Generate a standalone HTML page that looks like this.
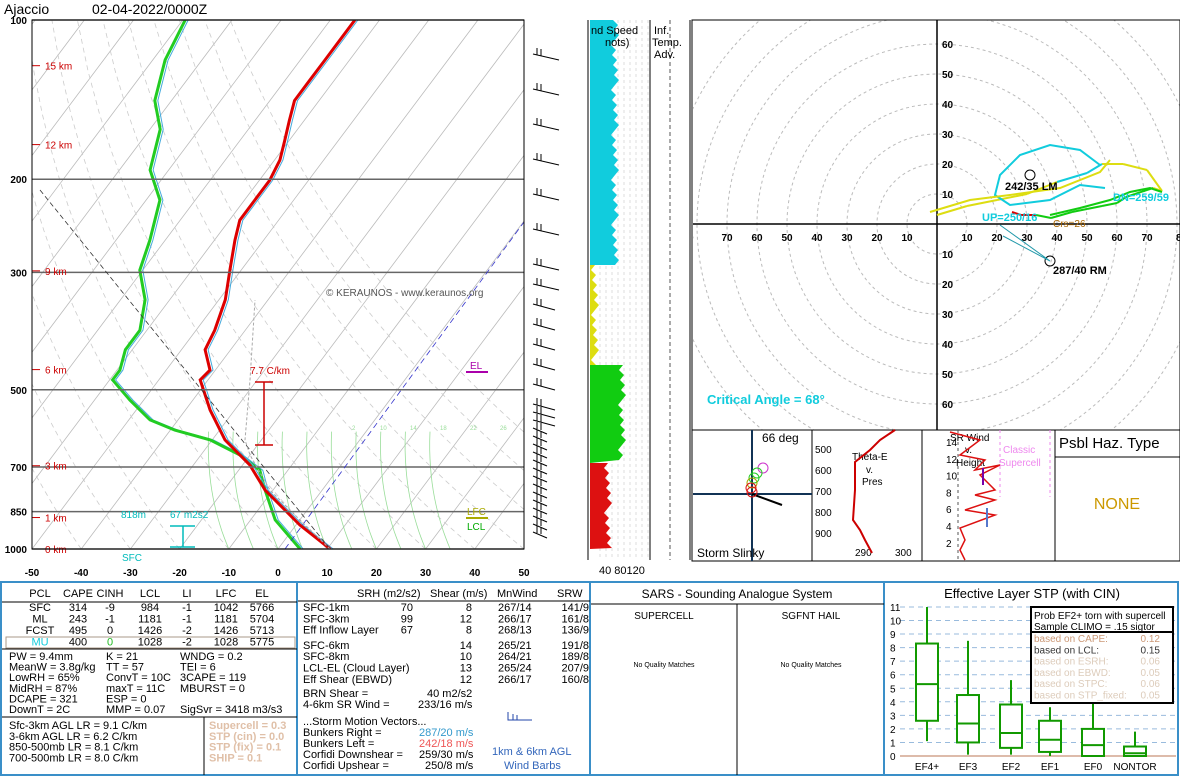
<!DOCTYPE html>
<html><head><meta charset="utf-8"><style>
body{margin:0;background:#fff;}
svg{display:block;font-family:"Liberation Sans",sans-serif;}
</style></head><body>
<svg id="c" width="1180" height="777" viewBox="0 0 1180 777" xmlns="http://www.w3.org/2000/svg">
<rect x="0" y="0" width="1180" height="777" fill="#fff"/>
<g id="skewt"></g>
<text x="4" y="14" font-size="14">Ajaccio</text>
<text x="92" y="14" font-size="14">02-04-2022/0000Z</text>
<g id="wspd"></g>
<g id="hodo"></g>
<g id="mini"></g>
<g id="bottom"></g>
<g id="stp"></g>
</svg>
<script>
// ---- data ----
const tempP=[1000,901,774,694,622,546,479,459,420,386,338,297,261,239,219,201,184,169,155,142,130,119,109,100];
const tempT=[10.6,0.8,-11.6,-18.5,-27.4,-35.0,-41.6,-41.1,-45.2,-46.2,-48.7,-52.3,-55.8,-57.9,-57.9,-57.9,-58.9,-60.9,-63.0,-65.0,-65.0,-65.0,-65.0,-65.0];
const dewP=[1000,881,774,710,664,622,596,570,523,479,459,420,386,338,297,261,219,192,161,142,119,109,100];
const dewT=[4.5,-5.0,-11.6,-15.7,-22.1,-30.4,-39.1,-45.7,-52.8,-59.4,-59.4,-61.4,-61.4,-65.0,-70.6,-73.1,-77.2,-83.8,-87.9,-93.4,-97.5,-98.5,-99.5];
const pressureTicks=[100,200,300,500,700,850,1000];
const tempTicks=[-50,-40,-30,-20,-10,0,10,20,30,40,50];
const heightLabels=["15 km","12 km","9 km","6 km","3 km","1 km","0 km"];
const heightP=[122,172,298,458,696,872,1000];
const hodoU=[25,28,33,38,45,50,55,60,63,66,72,75,70,62,55,50,40,30,20,10,0];
const hodoV=[4,3,3,2,4,5,6,7,9,10,12,11,18,20,20,17,14,10,8,6,3];
const stpCats=["EF4+","EF3","EF2","EF1","EF0","NONTOR"];
const stpLo=[1.1,0.1,0.1,0,0,0];
const stpQ1=[2.6,1.0,0.6,0.3,0,0];
const stpMed=[5.3,2.4,1.7,1.2,0.8,0.2];
const stpQ3=[8.3,4.5,3.8,2.6,2.0,0.7];
const stpHi=[11,8.5,5.6,3.6,4.0,1.8];

const NS="http://www.w3.org/2000/svg";
function mk(parent,tag,attrs,txt){const e=document.createElementNS(NS,tag);for(const k in attrs)e.setAttribute(k,attrs[k]);if(txt!==undefined)e.textContent=txt;parent.appendChild(e);return e;}

// ---- skew-T ----
const sk=document.getElementById('skewt');
const Y0=20,Y1=549,X0=32,X1=524;
function yP(p){return Y0+(Y1-Y0)*Math.log(p/100)/Math.log(10);}
function xT(t,y){return 278+4.92*t+0.75*(Y1-y);}
const clip=mk(sk,'clipPath',{id:'skclip'});mk(clip,'rect',{x:X0,y:Y0,width:X1-X0,height:Y1-Y0});
const grid=mk(sk,'g',{'clip-path':'url(#skclip)'});


for(let t=-160;t<=60;t+=10){const l=mk(grid,'line',{x1:xT(t,Y1),y1:Y1,x2:xT(t,Y0),y2:Y0,stroke:'#bbb','stroke-width':0.8});

}
for(let t=-40;t<=80;t+=10){let d='';for(let p=1000;p>=100;p-=25){const th=(t+273.15)*Math.pow(p/1000,0.286)-273.15;const y=yP(p);d+=(d?'L':'M')+xT(th,y).toFixed(1)+' '+y.toFixed(1);}
const a=mk(grid,'path',{d:d,fill:'none',stroke:'#ccc','stroke-width':0.8,'stroke-dasharray':'5,4'});

}
for(let t=-10;t<=35;t+=5){let d='';for(let p=1000;p>=600;p-=25){const y=yP(p);const tt=t-(1000-p)*0.055;d+=(d?'L':'M')+xT(tt,y).toFixed(1)+' '+y.toFixed(1);}
const m=mk(grid,'path',{d:d,fill:'none',stroke:'#9d9','stroke-width':0.8});

}
pressureTicks.forEach(p=>{const y=yP(p);const l=mk(sk,'line',{x1:X0,x2:X1,y1:y,y2:y,stroke:'#666','stroke-width':1.5});


const t=mk(sk,'text',{x:27,y:y+4,'font-size':10,'font-weight':'bold','text-anchor':'end'},p);

});
tempTicks.forEach(t=>{const tx=mk(sk,'text',{x:278+4.92*t,y:576,'font-size':10,'font-weight':'bold','text-anchor':'middle'},t);

});
heightLabels.forEach((h,i)=>{const y=yP(heightP[i]);mk(sk,'line',{x1:32,x2:40,y1:y,y2:y,stroke:'#c00'});
const t=mk(sk,'text',{x:45,y:y+4,'font-size':10,fill:'#c00'},h);

});
mk(sk,'line',{x1:40,y1:190,x2:330,y2:549,stroke:'#333','stroke-dasharray':'5,3','stroke-width':0.8});
mk(sk,'line',{x1:285,y1:549,x2:524,y2:222,stroke:'#33c','stroke-dasharray':'6,4','stroke-width':0.8});
mk(sk,'path',{d:'M330 549 L300 520 L270 490 L250 455 L245 440 L250 380 L255 300',fill:'none',stroke:'#aaa','stroke-width':1,'stroke-dasharray':'3,2'});
function prof(P,T,col,name){let d='';P.forEach((p,i)=>{const y=yP(p);d+=(i?'L':'M')+xT(T[i],y).toFixed(1)+' '+y.toFixed(1);});
mk(grid,'path',{d:d,fill:'none',stroke:'#4ad','stroke-width':1,transform:'translate(3,0)'});
const e=mk(grid,'path',{d:d,fill:'none',stroke:col,'stroke-width':3});

}
prof(dewP,dewT,'#2c2','dewpoint-line');
prof(tempP,tempT,'#d00','temperature-line');
mk(sk,'rect',{x:X0,y:Y0,width:X1-X0,height:Y1-Y0,fill:'none',stroke:'#000'});
mk(sk,'text',{x:326,y:296,'font-size':10,fill:'#555'},'© KERAUNOS - www.keraunos.org');
mk(sk,'text',{x:250,y:374,'font-size':10,fill:'#c00'},'7.7 C/km');
mk(sk,'path',{d:'M255 382 H273 M264 382 V445 M255 445 H273',stroke:'#c00',fill:'none','stroke-width':1.5});
mk(sk,'text',{x:470,y:369,'font-size':10,fill:'#a0a'},'EL');mk(sk,'line',{x1:466,x2:488,y1:372,y2:372,stroke:'#a0a','stroke-width':2});
mk(sk,'text',{x:467,y:515,'font-size':10,fill:'#aa0'},'LFC');mk(sk,'line',{x1:466,x2:488,y1:518,y2:518,stroke:'#aa0','stroke-width':2});
mk(sk,'text',{x:467,y:530,'font-size':10,fill:'#0a0'},'LCL');
mk(sk,'text',{x:121,y:518,'font-size':10,fill:'#0bb'},'818m');
mk(sk,'text',{x:170,y:518,'font-size':10,fill:'#0bb'},'67 m2s2');
mk(sk,'path',{d:'M170 526 H195 M183 526 V547 M170 547 H195',stroke:'#0bb',fill:'none','stroke-width':1.5});
mk(sk,'text',{x:122,y:561,'font-size':10,fill:'#0bb'},'SFC');
[352,380,410,440,470,500].forEach((x,i)=>mk(sk,'text',{x:x,y:430,'font-size':6,fill:'#9d9'},[2,10,14,18,22,26][i]));
for(let y=60;y<=545;y+=(y>400?8:(y>250?20:35))){const g=mk(sk,'g',{stroke:'#000','stroke-width':1,fill:'none'});


const len=y>430?14:(y>300?22:26);
mk(g,'line',{x1:533,y1:y-6,x2:533+len,y2:y});
mk(g,'line',{x1:537,y1:y-5,x2:537,y2:y-12});mk(g,'line',{x1:541,y1:y-4,x2:541,y2:y-11});}

// ---- wind speed column ----
const ws=document.getElementById('wspd');
mk(ws,'rect',{x:588,y:20,width:62,height:540,fill:'#fff'});
for(let x=600;x<650;x+=6)mk(ws,'line',{x1:x,x2:x,y1:20,y2:560,stroke:'#ddd','stroke-dasharray':'3,3'});
const cols=[[20,265,'#1cd',615],[265,365,'#dd1',595],[365,463,'#1c1',622],[463,549,'#d11',608]];
cols.forEach(c=>{let d='M590 '+c[0];for(let y=c[0];y<=c[1];y+=5){d+='L'+(c[3]+((y*37)%9)-4)+' '+y;}d+='L590 '+c[1]+'Z';
const p=mk(ws,'path',{d:d,fill:c[2]});

});
mk(ws,'line',{x1:650,x2:650,y1:20,y2:560,stroke:'#000'});
mk(ws,'line',{x1:588,x2:588,y1:20,y2:560,stroke:'#000'});
mk(ws,'line',{x1:670,x2:670,y1:20,y2:560,stroke:'#555','stroke-dasharray':'4,3'});
mk(ws,'line',{x1:690,x2:690,y1:20,y2:560,stroke:'#000'});
mk(ws,'text',{x:591,y:34,'font-size':11},'nd Speed');mk(ws,'text',{x:605,y:46,'font-size':11},'nots)');
mk(ws,'text',{x:654,y:34,'font-size':11},'Inf.');mk(ws,'text',{x:652,y:46,'font-size':11},'Temp.');mk(ws,'text',{x:654,y:58,'font-size':11},'Adv.');
mk(ws,'text',{x:599,y:574,'font-size':11},'40 80120');

// ---- hodograph ----
const hd=document.getElementById('hodo');
const HX=937,HY=224,HS=3;
const hc=mk(hd,'clipPath',{id:'hclip'});mk(hc,'rect',{x:693,y:20,width:487,height:410});
const hg=mk(hd,'g',{'clip-path':'url(#hclip)'});
for(let r=10;r<=90;r+=10)mk(hg,'circle',{cx:HX,cy:HY,r:r*HS,fill:'none',stroke:'#bbb','stroke-dasharray':'3,3'});
mk(hg,'line',{x1:693,x2:1180,y1:HY,y2:HY,stroke:'#000','stroke-width':1.5});
mk(hg,'line',{x1:HX,x2:HX,y1:20,y2:430,stroke:'#000','stroke-width':1.5});
[10,20,30,40,50,60,70].forEach(v=>{mk(hg,'text',{x:HX-v*HS,y:HY+17,'font-size':10,'font-weight':'bold','text-anchor':'middle'},v);mk(hg,'text',{x:HX+v*HS,y:HY+17,'font-size':10,'font-weight':'bold','text-anchor':'middle'},v);
if(v<=60){mk(hg,'text',{x:HX+5,y:HY-v*HS+4,'font-size':10,'font-weight':'bold'},v);mk(hg,'text',{x:HX+5,y:HY+v*HS+4,'font-size':10,'font-weight':'bold'},v);}});
mk(hg,'text',{x:HX-83*HS,y:HY+17,'font-size':10,'font-weight':'bold'},'0');mk(hg,'text',{x:1176,y:HY+17,'font-size':10,'font-weight':'bold'},'8');
const hcol=['#d00','#d00','#d00','#1c1','#1c1','#1c1','#1c1','#1c1','#1c1','#1c1','#1c1','#dd1','#dd1','#dd1','#dd1','#1cd','#1cd','#dd1','#dd1','#dd1','#dd1'];
for(let i=1;i<hodoU.length;i++){const l=mk(hg,'line',{x1:HX+hodoU[i-1]*HS,y1:HY-hodoV[i-1]*HS,x2:HX+hodoU[i]*HS,y2:HY-hodoV[i]*HS,stroke:hcol[i],'stroke-width':2});

}
mk(hg,'path',{d:'M1100 165 L1080 150 L1050 145 L1020 155 L1000 175 L995 195 L1010 205 L1050 200 L1080 185 L1105 188',fill:'none',stroke:'#1cd','stroke-width':2});
mk(hg,'path',{d:'M930 212 L970 200 L1010 195 L1060 188 L1100 172 L1110 160',fill:'none',stroke:'#dd1','stroke-width':2});
mk(hg,'path',{d:'M1050 215 L1080 208 L1110 200 L1130 192 L1150 188 L1162 192',fill:'none',stroke:'#1c1','stroke-width':2});
mk(hg,'circle',{cx:1030,cy:175,r:5,fill:'none',stroke:'#000'});
mk(hg,'text',{x:1005,y:190,'font-size':11,'font-weight':'bold'},'242/35 LM');
mk(hg,'circle',{cx:1050,cy:261,r:5,fill:'none',stroke:'#000'});
mk(hg,'path',{d:'M1003 236 L1050 261 L1000 225',fill:'none',stroke:'#29a'});
mk(hg,'text',{x:1053,y:274,'font-size':11,'font-weight':'bold'},'287/40 RM');
mk(hg,'text',{x:982,y:221,'font-size':11,'font-weight':'bold',fill:'#1cd'},'UP=250/16');
mk(hg,'text',{x:1113,y:201,'font-size':11,'font-weight':'bold',fill:'#1cd'},'DN=259/59');
mk(hg,'text',{x:1053,y:227,'font-size':10,fill:'#a60'},'Crs=26');
mk(hg,'text',{x:707,y:404,'font-size':13,'font-weight':'bold',fill:'#1cd'},'Critical Angle = 68°');
mk(hd,'rect',{x:692,y:20,width:488,height:410,fill:'none',stroke:'#000'});

// ---- mini panels ----
const mi=document.getElementById('mini');
mk(mi,'rect',{x:692,y:430,width:488,height:131,fill:'#fff',stroke:'#000'});
[812,922,1055].forEach(x=>mk(mi,'line',{x1:x,x2:x,y1:430,y2:561,stroke:'#000'}));
mk(mi,'line',{x1:693,x2:812,y1:494,y2:494,stroke:'#135','stroke-width':2});
mk(mi,'line',{x1:752,x2:752,y1:430,y2:561,stroke:'#135','stroke-width':2});
mk(mi,'line',{x1:752,x2:782,y1:494,y2:505,stroke:'#000','stroke-width':2});
[[763,468,'#c3c'],[757,473,'#2c2'],[754,478,'#2c2'],[752,483,'#a8a800'],[751,488,'#d11'],[752,492,'#d11']].forEach(c=>mk(mi,'circle',{cx:c[0],cy:c[1],r:5,fill:'none',stroke:c[2]}));
mk(mi,'text',{x:762,y:442,'font-size':12},'66 deg');
mk(mi,'text',{x:697,y:557,'font-size':12},'Storm Slinky');
[500,600,700,800,900].forEach((p,i)=>mk(mi,'text',{x:815,y:453+i*21,'font-size':10},p));
mk(mi,'text',{x:852,y:460,'font-size':10},'Theta-E');mk(mi,'text',{x:866,y:473,'font-size':10},'v.');mk(mi,'text',{x:862,y:485,'font-size':10},'Pres');
mk(mi,'text',{x:855,y:556,'font-size':10},'290');mk(mi,'text',{x:895,y:556,'font-size':10},'300');
mk(mi,'path',{d:'M895 430 L880 440 L870 450 L855 462 L855 490 L853 520 L860 530 L865 540 L872 553',fill:'none',stroke:'#c00','stroke-width':2});
[14,12,10,8,6,4,2].forEach((h,i)=>mk(mi,'text',{x:946,y:446+i*16.8,'font-size':10},h));
mk(mi,'line',{x1:958,x2:958,y1:430,y2:561,stroke:'#555','stroke-dasharray':'3,3'});
mk(mi,'line',{x1:1000,x2:1000,y1:430,y2:497,stroke:'#e8e','stroke-dasharray':'3,3'});
mk(mi,'line',{x1:1050,x2:1050,y1:430,y2:497,stroke:'#e8e','stroke-dasharray':'3,3'});
mk(mi,'text',{x:1003,y:453,'font-size':10,fill:'#e8e'},'Classic');mk(mi,'text',{x:999,y:466,'font-size':10,fill:'#e8e'},'Supercell');
mk(mi,'text',{x:950,y:441,'font-size':10},'SR Wind');mk(mi,'text',{x:965,y:453,'font-size':10},'v.');mk(mi,'text',{x:956,y:466,'font-size':10},'Height');
mk(mi,'path',{d:'M950 432 L980 440 L960 455 L985 460 L975 470 L1000 465 L980 475 L995 490 L975 495 L995 500 L965 510 L995 515 L960 528 L965 540 L960 550 L965 560',fill:'none',stroke:'#d11','stroke-width':1.5});
mk(mi,'line',{x1:983,x2:983,y1:468,y2:485,stroke:'#70a','stroke-width':2});
mk(mi,'line',{x1:987,x2:987,y1:508,y2:527,stroke:'#57c','stroke-width':2});
mk(mi,'text',{x:1059,y:448,'font-size':15},'Psbl Haz. Type');
mk(mi,'line',{x1:1055,x2:1180,y1:457,y2:457,stroke:'#000'});
mk(mi,'text',{x:1117,y:509,'font-size':16,fill:'#c90','text-anchor':'middle'},'NONE');

// ---- bottom tables ----
const bt=document.getElementById('bottom');
mk(bt,'rect',{x:1,y:582,width:1177,height:193,fill:'#fff',stroke:'#3a8fc8','stroke-width':2});
[297,590,884].forEach(x=>mk(bt,'line',{x1:x,x2:x,y1:583,y2:775,stroke:'#3a8fc8','stroke-width':2}));
function T(x,y,s,opt){const o=Object.assign({'font-size':11},opt||{});o.x=x;o.y=y;return mk(bt,'text',o,s);}
const hdr=['PCL','CAPE','CINH','LCL','LI','LFC','EL'],hx=[40,78,110,150,187,226,262];
hdr.forEach((h,i)=>T(hx[i],597,h,{'text-anchor':'middle'}));
const rows=[['SFC','314','-9','984','-1','1042','5766'],['ML','243','-1','1181','-1','1181','5704'],['FCST','495','0','1426','-2','1426','5713'],['MU','400','0','1028','-2','1028','5775']];
rows.forEach((r,j)=>r.forEach((v,i)=>T(hx[i],611+j*11.5,v,{'text-anchor':'middle',fill:(j==3&&i==0)?'#1cd':(j==3&&i==2)?'#2b2':'#000'})));
mk(bt,'rect',{x:6,y:637,width:289,height:11,fill:'none',stroke:'#a98'});
mk(bt,'line',{x1:2,x2:297,y1:602,y2:602,stroke:'#000'});
mk(bt,'line',{x1:2,x2:297,y1:649,y2:649,stroke:'#000'});
mk(bt,'line',{x1:2,x2:297,y1:717,y2:717,stroke:'#000'});
mk(bt,'line',{x1:204,x2:204,y1:717,y2:775,stroke:'#000'});
const ix=[['PW = 9.4mm','K = 21','WNDG = 0.2'],['MeanW = 3.8g/kg','TT = 57','TEI = 6'],['LowRH = 65%','ConvT = 10C','3CAPE = 119'],['MidRH = 87%','maxT = 11C','MBURST = 0'],['DCAPE = 321','ESP = 0',''],['DownT = 2C','MMP = 0.07','SigSvr = 3418 m3/s3']];
ix.forEach((r,j)=>{T(9,660+j*10.6,r[0]);T(106,660+j*10.6,r[1]);T(180,660+j*10.6,r[2]);});
['Sfc-3km AGL LR = 9.1 C/km','3-6km AGL LR = 6.2 C/km','850-500mb LR = 8.1 C/km','700-500mb LR = 8.0 C/km'].forEach((s,j)=>T(9,729+j*10.8,s));
['Supercell = 0.3','STP (cin) = 0.0','STP (fix) = 0.1','SHIP = 0.1'].forEach((s,j)=>T(209,729+j*10.8,s,{fill:'#e0c0a8','font-weight':'bold'}));
// middle
T(357,597,'SRH (m2/s2)');T(430,597,'Shear (m/s)');T(497,597,'MnWind');T(557,597,'SRW');
mk(bt,'line',{x1:298,x2:590,y1:601,y2:601,stroke:'#000'});
const sr=[['SFC-1km','70','8','267/14','141/9'],['SFC-3km','99','12','266/17','161/8'],['Eff Inflow Layer','67','8','268/13','136/9'],null,['SFC-6km','','14','265/21','191/8'],['SFC-8km','','10','264/21','189/8'],['LCL-EL (Cloud Layer)','','13','265/24','207/9'],['Eff Shear (EBWD)','','12','266/17','160/8']];
let yy=611;sr.forEach(r=>{if(!r){yy+=4;return;}T(303,yy,r[0]);T(413,yy,r[1],{'text-anchor':'end'});T(472,yy,r[2],{'text-anchor':'end'});T(498,yy,r[3]);T(589,yy,r[4],{'text-anchor':'end'});yy+=11.3;});
T(303,697,'BRN Shear =');T(427,697,'40 m2/s2');T(303,708,'4-6km SR Wind =');T(418,708,'233/16 m/s');
T(303,725,'...Storm Motion Vectors...');
T(303,736,'Bunkers Right =');T(419,736,'287/20 m/s',{fill:'#39c'});
T(303,747,'Bunkers Left =');T(419,747,'242/18 m/s',{fill:'#e55'});
T(303,758,'Corfidi Downshear =');T(419,758,'259/30 m/s');
T(303,769,'Corfidi Upshear =');T(425,769,'250/8 m/s');
T(492,755,'1km & 6km AGL',{fill:'#36b'});T(504,769,'Wind Barbs',{fill:'#36b'});
mk(bt,'path',{d:'M508 712 V720 H532 M513 714 V720 M517 715 V720',stroke:'#24a',fill:'none'});
// SARS
T(737,598,'SARS - Sounding Analogue System',{'text-anchor':'middle','font-size':12});
mk(bt,'line',{x1:591,x2:884,y1:604,y2:604,stroke:'#000'});
mk(bt,'line',{x1:737,x2:737,y1:604,y2:775,stroke:'#000'});
T(664,619,'SUPERCELL',{'text-anchor':'middle','font-size':10});T(811,619,'SGFNT HAIL',{'text-anchor':'middle','font-size':10});
T(664,667,'No Quality Matches',{'text-anchor':'middle','font-size':7});T(811,667,'No Quality Matches',{'text-anchor':'middle','font-size':7});

// ---- STP boxplot ----
const st=document.getElementById('stp');
const SY0=756,SPU=13.55,SX=[927,968,1011,1050,1093,1135];
function sy(v){return SY0-v*SPU;}
mk(st,'text',{x:1032,y:598,'font-size':13,'text-anchor':'middle'},'Effective Layer STP (with CIN)');
for(let v=0;v<=11;v++){mk(st,'line',{x1:900,x2:1176,y1:sy(v),y2:sy(v),stroke:v?'#9bd':'#dba','stroke-dasharray':v?'5,4':'','stroke-width':v?1:2});
mk(st,'text',{x:890,y:sy(v)+4,'font-size':10},v);}
stpCats.forEach((c,i)=>{const g=mk(st,'g',{stroke:'#190','stroke-width':2,fill:'none'});


mk(g,'line',{x1:SX[i],x2:SX[i],y1:sy(stpLo[i]),y2:sy(stpHi[i])});
mk(g,'rect',{x:SX[i]-11,y:sy(stpQ3[i]),width:22,height:sy(stpQ1[i])-sy(stpQ3[i]),fill:'#fff'});
mk(g,'line',{x1:SX[i]-11,x2:SX[i]+11,y1:sy(stpMed[i]),y2:sy(stpMed[i])});
mk(st,'text',{x:SX[i],y:770,'font-size':10,'text-anchor':'middle'},c);});
mk(st,'rect',{x:1031,y:607,width:142,height:96,fill:'#fff',stroke:'#000','stroke-width':2});
mk(st,'line',{x1:1031,x2:1173,y1:632,y2:632,stroke:'#000','stroke-width':2});
mk(st,'text',{x:1034,y:619,'font-size':10},'Prob EF2+ torn with supercell');
mk(st,'text',{x:1034,y:630,'font-size':10},'Sample CLIMO = .15 sigtor');
[['based on CAPE:','0.12','#c97'],['based on LCL:','0.15','#333'],['based on ESRH:','0.06','#dcb'],['based on EBWD:','0.05','#dcb'],['based on STPC:','0.06','#dcb'],['based on STP_fixed:','0.05','#dcb']].forEach((r,j)=>{
mk(st,'text',{x:1034,y:642+j*11.3,'font-size':10,fill:r[2]},r[0]);mk(st,'text',{x:1160,y:642+j*11.3,'font-size':10,fill:r[2],'text-anchor':'end'},r[1]);});
</script>
</body></html>
